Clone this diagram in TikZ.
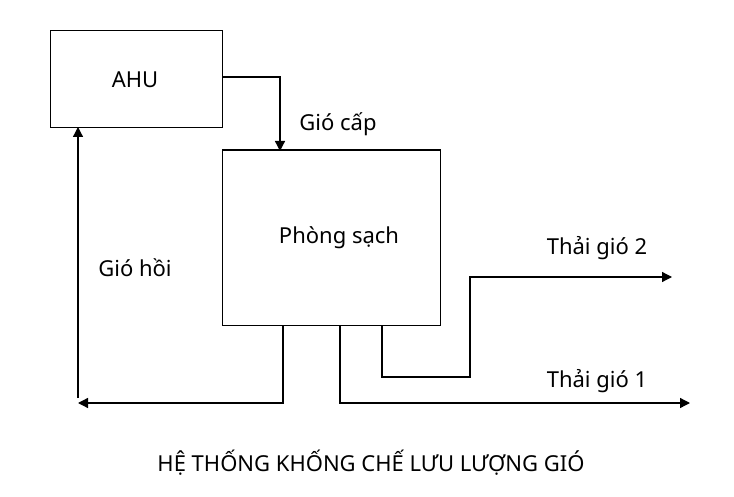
\documentclass[tikz,border=0pt]{standalone}
\usepackage{fontspec}
\setmainfont{Noto Sans}
\usetikzlibrary{arrows.meta}
\begin{document}
\begin{tikzpicture}[x=1pt,y=-1pt,
  ln/.style={line width=1.3pt,black},
  arr/.style={ln,-{Triangle[length=10pt,width=10pt]}},
  lbl/.style={font=\fontsize{22}{26}\selectfont}]
\useasboundingbox (0,0) rectangle (734,497);
\node[draw,line width=1.2pt,minimum width=172pt,minimum height=97pt,anchor=north west] (ahu) at (50,30) {};
\node[lbl] (ahut) at (135,80) {AHU};
\node[draw,line width=1.2pt,minimum width=218pt,minimum height=175pt,anchor=north west] (room) at (222,150) {};
\draw[line width=2.5pt] (room.north west) -- (room.north east);
\node[lbl] at (339,238) {Phòng sạch};
\coordinate (s1) at (222,77); \coordinate (s2) at (280,77); \coordinate (s3) at (280,151);
\draw[arr] (s1) -- (s2) -- (s3);
\node[lbl] at (338,124) {Gió cấp};
\coordinate (r1) at (283,325); \coordinate (r2) at (283,403); \coordinate (r3) at (78,403);
\draw[arr] (r1) -- (r2) -- (r3);
\coordinate (u1) at (78,398); \coordinate (u2) at (78,127);
\draw[arr] (u1) -- (u2);
\node[lbl] at (135,268) {Gió hồi};
\coordinate (e1) at (340,325); \coordinate (e2) at (340,403); \coordinate (e3) at (690,403);
\draw[arr] (e1) -- (e2) -- (e3);
\node[lbl] at (597,381) {Thải gió 1};
\coordinate (f1) at (382,325); \coordinate (f2) at (382,377); \coordinate (f3) at (470,377);
\coordinate (f4) at (470,277); \coordinate (f5) at (672,277);
\draw[arr] (f1) -- (f2) -- (f3) -- (f4) -- (f5);
\node[lbl] at (597,248) {Thải gió 2};
\node[lbl] at (371,463) {HỆ THỐNG KHỐNG CHẾ LƯU LƯỢNG GIÓ};
\end{tikzpicture}
\end{document}
